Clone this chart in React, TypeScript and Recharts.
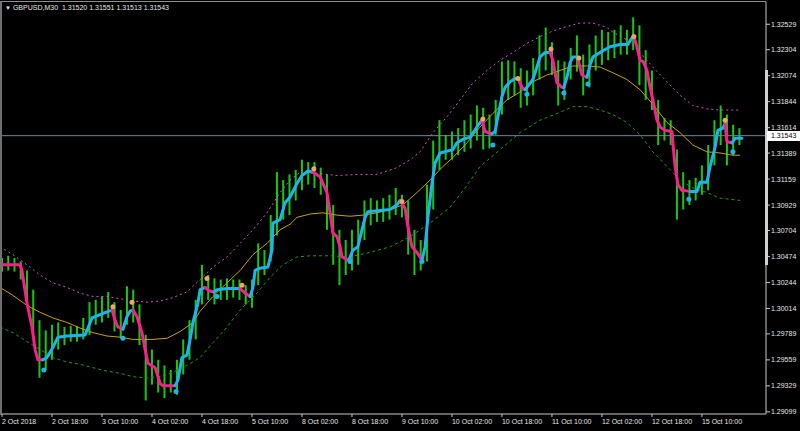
import { ComposedChart, Bar, Line, XAxis, YAxis, ReferenceLine } from 'recharts'

const W = 800
const H = 431
const FONT = '"Liberation Sans", Arial, sans-serif'
const TXT = '#e6e6e6'

// x axis: trading hours since 2 Oct 2018 00:00
const dateTicks = [0, 16, 32, 48, 64, 80, 96, 112, 128, 144, 160, 176, 192, 208, 224]
const dateLabels = [
  '2 Oct 2018', '2 Oct 18:00', '3 Oct 10:00', '4 Oct 02:00', '4 Oct 18:00',
  '5 Oct 10:00', '8 Oct 02:00', '8 Oct 18:00', '9 Oct 10:00', '10 Oct 02:00',
  '10 Oct 18:00', '11 Oct 10:00', '12 Oct 02:00', '12 Oct 18:00', '15 Oct 10:00',
]

const priceTicks = [
  1.32529, 1.32304, 1.32074, 1.31844, 1.31614, 1.31389, 1.31159, 1.30929,
  1.30704, 1.30474, 1.30244, 1.30014, 1.29789, 1.29559, 1.29329, 1.29099,
]
const lastPrice = 1.31543

// high / low of each 2 hour block (t = 0, 2, 4 ...)
const barHigh = [
  1.3046, 1.3048, 1.3046, 1.3043, 1.3035, 1.3018, 1.2991, 1.2982, 1.2987, 1.2989,
  1.2985, 1.2986, 1.2986, 1.2993, 1.3007, 1.3009, 1.3012, 1.3016, 1.3007, 1.3000,
  1.3021, 1.3018, 1.3005, 1.2978, 1.2965, 1.2956, 1.2951, 1.2947, 1.2956, 1.2974,
  1.2991, 1.3009, 1.3040, 1.3031, 1.3028, 1.3027, 1.3028, 1.3027, 1.3027, 1.3022,
  1.3027, 1.3059, 1.3053, 1.3084, 1.3122, 1.3115, 1.3120, 1.3124, 1.3133, 1.3131,
  1.3131, 1.3126, 1.3120, 1.3093, 1.3071, 1.3062, 1.3071, 1.3080, 1.3097, 1.3099,
  1.3097, 1.3099, 1.3102, 1.3108, 1.3102, 1.3097, 1.3071, 1.3062, 1.3111, 1.3150,
  1.3168, 1.3155, 1.3158, 1.3161, 1.3168, 1.3173, 1.3181, 1.3179, 1.3173, 1.3186,
  1.3220, 1.3221, 1.3220, 1.3214, 1.3212, 1.3223, 1.3243, 1.3250, 1.3237, 1.3221,
  1.3220, 1.3232, 1.3243, 1.3226, 1.3235, 1.3243, 1.3248, 1.3246, 1.3248, 1.3252,
  1.3248, 1.3259, 1.3252, 1.3230, 1.3212, 1.3186, 1.3170, 1.3168, 1.3142, 1.3122,
  1.3115, 1.3117, 1.3128, 1.3146, 1.3168, 1.3181, 1.3173, 1.3164, 1.3161,
]
const barLow = [
  1.3034, 1.3035, 1.3034, 1.3027, 1.3005, 1.2978, 1.2940, 1.2947, 1.2956, 1.2965,
  1.2969, 1.2972, 1.2972, 1.2974, 1.2978, 1.2987, 1.2989, 1.2993, 1.2981, 1.2975,
  1.2987, 1.2989, 1.2969, 1.2920, 1.2934, 1.2927, 1.2922, 1.2927, 1.2925, 1.2943,
  1.2956, 1.2974, 1.3005, 1.3009, 1.3005, 1.3009, 1.3009, 1.3011, 1.3009, 1.3005,
  1.3002, 1.3022, 1.3031, 1.3043, 1.3066, 1.3080, 1.3084, 1.3097, 1.3106, 1.3111,
  1.3108, 1.3102, 1.3071, 1.3040, 1.3022, 1.3031, 1.3035, 1.3040, 1.3062, 1.3075,
  1.3078, 1.3078, 1.3080, 1.3084, 1.3082, 1.3049, 1.3031, 1.3035, 1.3043, 1.3089,
  1.3124, 1.3133, 1.3133, 1.3137, 1.3140, 1.3143, 1.3150, 1.3142, 1.3143, 1.3155,
  1.3173, 1.3186, 1.3190, 1.3179, 1.3181, 1.3190, 1.3204, 1.3212, 1.3208, 1.3181,
  1.3186, 1.3204, 1.3211, 1.3190, 1.3197, 1.3212, 1.3217, 1.3221, 1.3223, 1.3226,
  1.3226, 1.3230, 1.3199, 1.3186, 1.3177, 1.3146, 1.3150, 1.3146, 1.3080, 1.3089,
  1.3093, 1.3097, 1.3102, 1.3106, 1.3128, 1.3146, 1.3128, 1.3137, 1.3146,
]

// trend line, [t, price]; colour changes per segment
type Seg = { up: boolean; pts: number[][] }
const trend: Seg[] = [
  { up: false, pts: [[-0.64, 1.304], [5.8, 1.304], [6.4, 1.3035], [8, 1.3006], [9.6, 1.2985], [10.6, 1.2965], [11.5, 1.2956], [13.1, 1.2956]] },
  { up: true, pts: [[13.1, 1.2956], [14.4, 1.2958], [16.3, 1.2967], [17.9, 1.2976], [20.8, 1.2977], [26.6, 1.2978], [27.5, 1.2984], [28.8, 1.2993], [31.4, 1.2996], [32.3, 1.2997], [35.2, 1.3]] },
  { up: false, pts: [[35.2, 1.3], [36.2, 1.2991], [37.1, 1.2985], [38.7, 1.2983]] },
  { up: true, pts: [[38.7, 1.2983], [40, 1.2994], [41, 1.2999], [41.9, 1.3]] },
  { up: false, pts: [[41.9, 1.3], [43.2, 1.2994], [44.8, 1.298], [45.8, 1.2965], [46.7, 1.2953], [49, 1.2949], [50.6, 1.2935], [51.5, 1.2933], [55.4, 1.2933]] },
  { up: true, pts: [[55.4, 1.2933], [56.3, 1.2938], [57.6, 1.2958], [59.2, 1.296], [60.2, 1.2974], [61.1, 1.2989], [62.7, 1.3006], [63.4, 1.3018], [65, 1.302]] },
  { up: false, pts: [[65, 1.302], [66.2, 1.3017], [67.8, 1.3016]] },
  { up: true, pts: [[67.8, 1.3016], [68.8, 1.3018], [72, 1.3019], [74.6, 1.3019], [76.2, 1.3019]] },
  { up: false, pts: [[76.2, 1.3019], [77.8, 1.3015], [79.4, 1.3012]] },
  { up: true, pts: [[79.4, 1.3012], [80.3, 1.302], [81, 1.3035], [82.6, 1.3037], [85.1, 1.3038], [86.4, 1.3053], [86.7, 1.3077], [89, 1.308], [90.6, 1.3095], [92.2, 1.31], [94.4, 1.3112], [96, 1.3119], [97.9, 1.3123], [99.5, 1.3122]] },
  { up: false, pts: [[99.5, 1.3122], [101.8, 1.3118], [102.7, 1.3112], [104, 1.3104], [105, 1.3086], [105.9, 1.3068], [107.2, 1.3065], [108.2, 1.3056], [108.8, 1.3047], [111, 1.3044]] },
  { up: true, pts: [[111, 1.3044], [112.3, 1.3053], [113.9, 1.3056], [115.2, 1.3071], [116.2, 1.3082], [117.1, 1.3087], [121, 1.3088], [124.2, 1.3089], [126.4, 1.3093], [127.4, 1.3097]] },
  { up: false, pts: [[127.4, 1.3097], [129, 1.309], [129.9, 1.3074], [131.2, 1.3056], [132.8, 1.3051], [134.4, 1.3044]] },
  { up: true, pts: [[134.4, 1.3044], [135.4, 1.3056], [136.3, 1.3082], [137.6, 1.3112], [138.6, 1.313], [140.2, 1.3139], [144.3, 1.3142], [145.6, 1.3148], [147.5, 1.3151], [149.8, 1.3153], [152, 1.3162], [153.6, 1.3168]] },
  { up: false, pts: [[153.6, 1.3168], [154.6, 1.3158], [156.8, 1.3156]] },
  { up: true, pts: [[156.8, 1.3156], [157.8, 1.3158], [158.7, 1.3171], [160, 1.3189], [161, 1.3197], [162.6, 1.3202], [164.2, 1.3205], [165.1, 1.3205]] },
  { up: false, pts: [[165.1, 1.3205], [166.4, 1.3197], [167.4, 1.3195]] },
  { up: true, pts: [[167.4, 1.3195], [169.9, 1.3204], [171.2, 1.3215], [172.2, 1.3224], [173.8, 1.3228], [175.4, 1.3228]] },
  { up: false, pts: [[175.4, 1.3228], [176.3, 1.3221], [177, 1.321], [177.6, 1.3201], [179.2, 1.3197], [179.8, 1.3197]] },
  { up: true, pts: [[179.8, 1.3197], [180.8, 1.3206], [181.8, 1.3219], [182.7, 1.3224], [184.3, 1.3224]] },
  { up: false, pts: [[184.3, 1.3224], [185, 1.3214], [185.6, 1.3208], [187.2, 1.3206]] },
  { up: true, pts: [[187.2, 1.3206], [188.2, 1.3217], [189.1, 1.3224], [191.4, 1.3228], [194.6, 1.3233], [197.8, 1.3235], [200.3, 1.3235], [201.6, 1.3241], [202.2, 1.3242]] },
  { up: false, pts: [[202.2, 1.3242], [203.2, 1.3233], [204.2, 1.3221], [205.1, 1.322], [206.4, 1.3212], [207.4, 1.3197], [208.3, 1.3186], [209.6, 1.3168], [210.6, 1.3162], [212.2, 1.3159], [214.4, 1.3158], [214.7, 1.3148], [215.4, 1.3127], [216.3, 1.3111], [217.6, 1.3106], [220.2, 1.3105]] },
  { up: true, pts: [[220.2, 1.3105], [222.4, 1.3105], [223.4, 1.3113], [225.6, 1.3113], [226.6, 1.3127], [228.2, 1.3144], [229.1, 1.3159], [230.7, 1.3161], [231.4, 1.3165]] },
  { up: false, pts: [[231.4, 1.3165], [232, 1.3149], [233.6, 1.3148]] },
  { up: true, pts: [[233.6, 1.3148], [234.6, 1.3152], [236.8, 1.3152]] },
]

// moving average and envelope bands, [t, price]
const maLine = [
  [-0.64, 1.302], [3.5, 1.3013], [8, 1.3004], [12.2, 1.2998], [16.3, 1.2993], [20.8, 1.2989], [25, 1.2984], [29.1, 1.298],
  [33.6, 1.2977], [37.8, 1.2976], [41.9, 1.2974], [46.4, 1.2974], [48.3, 1.2974], [52.8, 1.2975], [57, 1.2981], [61.1, 1.2989],
  [63.4, 1.2999], [67.5, 1.3012], [72, 1.3024], [76.2, 1.3035], [80.3, 1.3049], [84.8, 1.3059], [89, 1.3071], [92.2, 1.3076],
  [94.4, 1.3082], [98.6, 1.3085], [102.7, 1.3086], [107.2, 1.3084], [111.4, 1.3083], [115.5, 1.3084], [120, 1.3086], [124.2, 1.3089],
  [128.3, 1.3093], [132.8, 1.3104], [137, 1.3115], [141.1, 1.3127], [144.3, 1.3135], [148.8, 1.3148], [153, 1.3162], [157.1, 1.3174],
  [161.6, 1.3186], [165.8, 1.3193], [169.9, 1.3202], [174.4, 1.3208], [178.6, 1.3212], [182.7, 1.3216], [187.2, 1.3216], [191.4, 1.3215],
  [195.5, 1.321], [200, 1.3204], [204.2, 1.3195], [208.3, 1.3182], [212.8, 1.3166], [217, 1.3157], [221.1, 1.3146], [225.6, 1.314],
  [229.8, 1.3139], [233.9, 1.3137], [236.2, 1.3137],
]
const upperBand = [
  [-0.64, 1.3056], [3.5, 1.3049], [8, 1.304], [12.2, 1.3031], [16.3, 1.3024], [20.8, 1.302], [25, 1.3015], [29.1, 1.3012],
  [33.6, 1.3012], [37.8, 1.301], [41.9, 1.3008], [46.4, 1.3007], [50.6, 1.3008], [54.7, 1.3011], [59.2, 1.3016], [63.4, 1.3027],
  [67.5, 1.3038], [72, 1.3047], [76.2, 1.3059], [80.3, 1.3071], [84.8, 1.3086], [89, 1.3104], [92.2, 1.3115], [96.3, 1.3124],
  [100.8, 1.3121], [107.2, 1.3119], [113.6, 1.312], [120, 1.312], [126.4, 1.3126], [130.6, 1.3133], [133.8, 1.314], [137.9, 1.3157],
  [142.4, 1.3171], [146.6, 1.3186], [150.7, 1.3201], [155.2, 1.3212], [159.4, 1.3221], [163.5, 1.3228], [168, 1.3236], [172.2, 1.3242],
  [176.3, 1.3247], [180.8, 1.3251], [185, 1.3254], [189.1, 1.3254], [193.6, 1.325], [195.5, 1.3246], [200, 1.3239], [204.2, 1.3228],
  [208.3, 1.3215], [212.8, 1.3202], [217, 1.319], [221.1, 1.3181], [225.6, 1.3178], [229.8, 1.3177], [236.2, 1.3177],
]
const lowerBand = [
  [-0.64, 1.2985], [3.5, 1.298], [8, 1.2972], [12.2, 1.2965], [16.3, 1.2958], [20.8, 1.2954], [25, 1.2952], [29.1, 1.2949],
  [33.6, 1.2946], [37.8, 1.2944], [41.9, 1.2941], [46.4, 1.294], [50.6, 1.2941], [54.7, 1.2945], [59.2, 1.2951], [63.4, 1.2958],
  [67.5, 1.2971], [72, 1.2985], [76.2, 1.3], [81.6, 1.3015], [85.8, 1.3029], [89.9, 1.304], [94.4, 1.3047], [98.6, 1.3048],
  [105, 1.3048], [111.4, 1.3047], [117.8, 1.3051], [124.2, 1.3056], [130.6, 1.3065], [137, 1.3077], [143.4, 1.3091], [148.2, 1.3108],
  [153, 1.3127], [159.4, 1.3142], [165.8, 1.3157], [172.2, 1.3168], [178.6, 1.3175], [182.7, 1.318], [187.2, 1.318], [191.4, 1.3177],
  [195.5, 1.3173], [200, 1.3166], [204.2, 1.3155], [208.3, 1.314], [212.8, 1.3127], [217, 1.3115], [221.1, 1.3108], [225.6, 1.3104],
  [229.8, 1.3099], [236.2, 1.3097],
]

// signal dots
const sellDots = [
  [35.5, 1.3003], [41.6, 1.3007], [65.6, 1.3028], [76.8, 1.3022], [99.8, 1.3125], [128, 1.3096],
  [153.9, 1.3169], [165.1, 1.3205], [175.7, 1.3231], [184.6, 1.3223], [202.2, 1.3242], [231.4, 1.3168],
]
const buyDots = [
  [13.4, 1.2947], [38.7, 1.2975], [55.7, 1.2928], [68.8, 1.3012], [111.4, 1.3043], [134.4, 1.3043],
  [157.1, 1.3146], [168, 1.3191], [179.8, 1.3192], [187.5, 1.32], [219.8, 1.3098], [233.9, 1.314],
]

const bars = barHigh.map((h, i) => ({ t: i * 2, range: [barLow[i], h] }))
const toPts = (a: number[][]) => a.map(([t, p]) => ({ t, p }))

const DateTick = (props: any) => {
  const { x, y, payload } = props
  const i = dateTicks.indexOf(payload.value)
  return (
    <text x={x} y={y} dy="0.71em" fill={TXT} fontSize={7} fontFamily={FONT} textAnchor="start">
      {dateLabels[i]}
    </text>
  )
}

const PriceTick = (props: any) => {
  const { x, y, payload } = props
  return (
    <text x={x} y={y} dy="0.35em" fill={TXT} fontSize={7} fontFamily={FONT} textAnchor="start">
      {payload.value.toFixed(5)}
    </text>
  )
}

// high-low stick, fixed width, centred on the bar slot
const Stick = (props: any) => {
  const { x, y, width, height } = props
  if (height == null || isNaN(height)) return null
  const cx = x + (width || 0) / 2
  const top = Math.min(y, y + height)
  const h = Math.max(1, Math.abs(height))
  return <rect x={cx - 1} y={top} width={2} height={h} fill="#14c814" />
}

export default function App() {
  return (
    <div style={{ position: 'relative', width: W, height: H, background: '#000', overflow: 'hidden' }}>
      <style>{'body{margin:0;background:#000}'}</style>
      <ComposedChart width={W} height={H} data={bars} margin={{ top: 2, right: 0, bottom: 0, left: 0 }}>
        <XAxis
          type="number"
          dataKey="t"
          domain={[-0.64, 244.5]}
          allowDataOverflow
          ticks={dateTicks}
          interval={0}
          height={17}
          stroke="#c8c8c8"
          tickSize={3}
          tickMargin={2}
          tick={<DateTick />}
        />
        <YAxis
          orientation="right"
          type="number"
          domain={[1.2908, 1.32726]}
          allowDataOverflow
          ticks={priceTicks}
          interval={0}
          width={34}
          stroke="#c8c8c8"
          tickSize={4}
          tickMargin={1}
          tick={<PriceTick />}
        />
        <Bar dataKey="range" fill="#14c814" barSize={4} shape={<Stick />} isAnimationActive={false} />
        <ReferenceLine y={lastPrice} stroke="#778899" strokeWidth={1} />
        <Line data={toPts(upperBand)} dataKey="p" stroke="#c45ec4" strokeWidth={1} strokeDasharray="2 3" dot={false} isAnimationActive={false} />
        <Line data={toPts(lowerBand)} dataKey="p" stroke="#1d9b1d" strokeWidth={1} strokeDasharray="3 3" dot={false} isAnimationActive={false} />
        <Line data={toPts(maLine)} dataKey="p" stroke="#c9a200" strokeWidth={1} dot={false} isAnimationActive={false} />
        {trend.map((s, i) => (
          <Line
            key={i}
            data={toPts(s.pts)}
            dataKey="p"
            stroke={s.up ? '#1ab6f0' : '#ff1c8c'}
            strokeWidth={3}
            strokeLinejoin="round"
            strokeLinecap="round"
            dot={false}
            isAnimationActive={false}
          />
        ))}
        <Line data={toPts(sellDots)} dataKey="p" stroke="none" dot={{ r: 2.5, fill: '#f4a460', stroke: 'none' }} isAnimationActive={false} />
        <Line data={toPts(buyDots)} dataKey="p" stroke="none" dot={{ r: 2.5, fill: '#1ab6f0', stroke: 'none' }} isAnimationActive={false} />
      </ComposedChart>

      {/* frame */}
      <div style={{ position: 'absolute', left: 0, top: 1, width: 766, height: 413, borderLeft: '2px solid #707070', borderTop: '1px solid #909090', boxSizing: 'border-box', pointerEvents: 'none' }} />
      <div style={{ position: 'absolute', left: 765, top: 70, width: 3, height: 195, background: '#d0d0d0' }} />

      {/* bid label */}
      <div style={{ position: 'absolute', left: 767, top: 131, width: 33, height: 10, background: '#fff', color: '#000', font: `7px/10px ${FONT}`, paddingLeft: 4, boxSizing: 'border-box' }}>
        1.31543
      </div>

      <div style={{ position: 'absolute', left: 5, top: 3, color: TXT, font: `7px/9px ${FONT}`, whiteSpace: 'pre' }}>
        <span style={{ fontSize: 6 }}>▼</span> GBPUSD,M30  1.31520 1.31551 1.31513 1.31543
      </div>
    </div>
  )
}
